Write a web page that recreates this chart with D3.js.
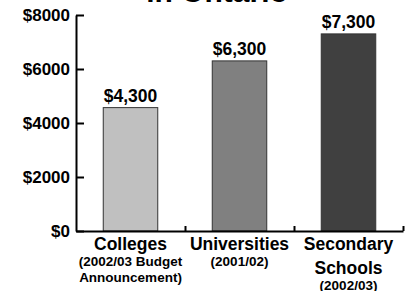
<!DOCTYPE html>
<html>
<head>
<meta charset="utf-8">
<script src="https://cdn.jsdelivr.net/npm/d3@7"></script>
<style>
  html, body { margin: 0; padding: 0; background: #fff; }
  svg { display: block; font-family: 'Liberation Sans', Arial, sans-serif; font-weight: bold; }
  .axis path, .axis line { stroke: #000; stroke-width: 2; }
</style>
</head>
<body>
<svg class="chart" width="413" height="291"></svg>
<script>
const categories = ['Colleges', 'Universities', 'Secondary'];
const categoryLines = [
  ['Colleges', '(2002/03 Budget', 'Announcement)'],
  ['Universities', '(2001/02)'],
  ['Secondary', 'Schools', '(2002/03)'],
];
const barValues = [4570, 6300, 7300];
const valueLabels = ['$4,300', '$6,300', '$7,300'];
const barColors = ['#c0c0c0', '#808080', '#404040'];
const yTicks = [0, 2000, 4000, 6000, 8000];

const startApp = () => {
  const margin = { top: 15, left: 76, right: 10, bottom: 60 };
  const svg = d3.select('.chart');
  const width = 413 - margin.left - margin.right;
  const height = 291 - margin.top - margin.bottom;

  const chart = svg.append('g')
    .attr('transform', `translate(${margin.left}, ${margin.top})`);

  // title runs off the top edge, only its lower part shows
  svg.append('text')
    .attr('x', 217)
    .attr('y', 2)
    .attr('text-anchor', 'middle')
    .style('font-size', '30px')
    .text('in Ontario');

  const xScale = d3.scaleBand().domain(categories).range([0, width])
    .paddingInner(0.5).paddingOuter(0.25);
  const idxScale = d3.scaleLinear().domain([0, categories.length]).range([0, width]);
  const yScale = d3.scaleLinear().domain([0, 8000]).range([height, 0]);

  chart.selectAll('rect')
    .data(barValues)
    .enter()
    .append('rect')
    .attr('x', (d, i) => xScale(categories[i]))
    .attr('y', d => yScale(d))
    .attr('width', xScale.bandwidth())
    .attr('height', d => height - yScale(d))
    .attr('fill', (d, i) => barColors[i])
    .attr('stroke', '#333')
    .attr('stroke-width', 1);

  chart.selectAll('.value')
    .data(barValues)
    .enter()
    .append('text')
    .classed('value', true)
    .attr('x', (d, i) => xScale(categories[i]) + xScale.bandwidth() / 2)
    .attr('y', d => yScale(d) - 6)
    .attr('text-anchor', 'middle')
    .style('font-size', '17.5px')
    .text((d, i) => valueLabels[i]);

  const yAxis = d3.axisLeft(yScale)
    .tickValues(yTicks)
    .tickSizeInner(-8)
    .tickSizeOuter(0)
    .tickPadding(6)
    .tickFormat(d => `$${d}`);
  const yG = chart.append('g').classed('axis', true).call(yAxis);
  yG.selectAll('text')
    .style('font-size', '17px')
    .style('font-weight', 'bold')
    .style('font-family', "'Liberation Sans', Arial, sans-serif")
    .attr('fill', '#000');

  const xAxis = d3.axisBottom(idxScale)
    .tickValues([1, 2, 3])
    .tickSizeInner(-5)
    .tickSizeOuter(0)
    .tickFormat('');
  chart.append('g').classed('axis', true)
    .attr('transform', `translate(0, ${height})`)
    .call(xAxis);

  // category labels, first line bigger
  const lineY = [[19, 35, 51], [19, 35], [19, 43, 59]];
  categoryLines.forEach((lines, i) => {
    const t = chart.append('text')
      .attr('text-anchor', 'middle')
      .attr('transform', `translate(${xScale(categories[i]) + xScale.bandwidth() / 2}, ${height})`);
    lines.forEach((line, j) => {
      const big = j === 0 || (i === 2 && j === 1);
      t.append('tspan')
        .attr('x', 0)
        .attr('y', lineY[i][j])
        .style('font-size', big ? '17.5px' : '13.5px')
        .text(line);
    });
  });
};

window.onload = startApp;
</script>
</body>
</html>
